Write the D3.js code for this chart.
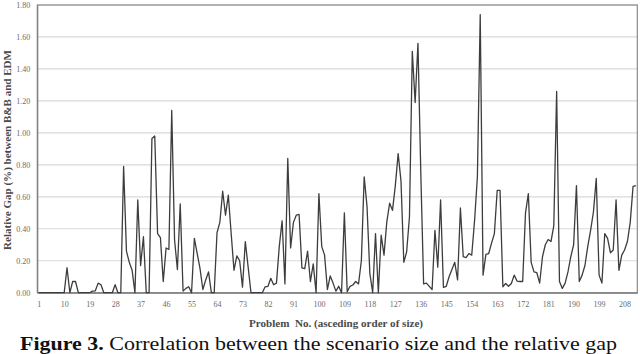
<!DOCTYPE html>
<html>
<head>
<meta charset="utf-8">
<script src="https://cdn.jsdelivr.net/npm/d3@7"></script>
<style>
  body { margin: 0; background: #fff; }
  svg { display: block; }
</style>
</head>
<body>
<script>
// relative gap (%) for problems 1..212
const gapValues = [
  0, 0, 0, 0, 0, 0, 0, 0, 0, 0,
  0.156, 0, 0.07, 0.07, 0, 0, 0, 0, 0, 0.01,
  0.012, 0.06, 0.05, 0, 0, 0, 0, 0.05, 0, 0,
  0.79, 0.26, 0.19, 0.14, 0, 0.58, 0.17, 0.35, 0, 0,
  0.965, 0.98, 0.37, 0.345, 0.07, 0.28, 0.27, 1.14, 0.33, 0.145,
  0.555, 0.01, 0.027, 0.037, 0, 0.34, 0.245, 0.15, 0.02, 0.08,
  0.13, 0, 0, 0.375, 0.44, 0.635, 0.485, 0.61, 0.37, 0.14,
  0.23, 0.20, 0.035, 0.32, 0.16, 0, 0, 0, 0, 0,
  0.037, 0.04, 0.09, 0.05, 0.06, 0.29, 0.45, 0.055, 0.84, 0.28,
  0.44, 0.485, 0.49, 0.155, 0.15, 0.26, 0.07, 0.18, 0, 0.62,
  0.29, 0.235, 0.02, 0.105, 0.06, 0.01, 0.04, 0, 0.50, 0.006,
  0.04, 0.048, 0.07, 0.055, 0.2, 0.725, 0.54, 0.12, 0, 0.37,
  0, 0.36, 0.235, 0.445, 0.56, 0.515, 0.67, 0.87, 0.70, 0.19,
  0.255, 0.475, 1.51, 1.19, 1.56, 0.75, 0.055, 0.06, 0.04, 0.02,
  0.39, 0.16, 0.58, 0.033, 0.04, 0.10, 0.145, 0.19, 0.08, 0.53,
  0.225, 0.22, 0.245, 0.235, 0.45, 0.725, 1.74, 0.11, 0.24, 0.245,
  0.31, 0.37, 0.64, 0.64, 0.037, 0.058, 0.04, 0.058, 0.11, 0.073,
  0.07, 0.07, 0.5, 0.62, 0.19, 0.13, 0.125, 0.06, 0.225, 0.30,
  0.333, 0.32, 0.42, 1.26, 0.07, 0.027, 0.06, 0.13, 0.225, 0.30,
  0.67, 0.07, 0.11, 0.17, 0.29, 0.39, 0.505, 0.715, 0.11, 0.06,
  0.37, 0.34, 0.25, 0.267, 0.58, 0.14, 0.235, 0.267, 0.32, 0.44,
  0.665, 0.67
];
const problemNo = gapValues.map((d, i) => i + 1);
const xTickLabels = [1, 10, 19, 28, 37, 46, 55, 64, 73, 82, 91, 100, 109, 118, 127, 136, 145, 154, 163, 172, 181, 190, 199, 208];
const yTickLabels = [0, 0.2, 0.4, 0.6, 0.8, 1.0, 1.2, 1.4, 1.6, 1.8];

const width = 640;
const height = 354;
const plot = { left: 37.3, right: 637.3, top: 5, bottom: 292.7 };
const serif = "'Liberation Serif', 'DejaVu Serif', serif";

const svg = d3.select("body").append("svg")
    .attr("width", width)
    .attr("height", height);

const x = d3.scalePoint()
    .domain(problemNo)
    .range([plot.left, plot.right])
    .padding(0.5);

const y = d3.scaleLinear()
    .domain([0, 1.8])
    .range([plot.bottom, plot.top]);

// gridlines
svg.append("g")
    .selectAll("line")
    .data(yTickLabels.slice(1))
    .enter()
    .append("line")
    .attr("x1", plot.left)
    .attr("x2", plot.right)
    .attr("y1", d => y(d))
    .attr("y2", d => y(d))
    .attr("stroke", "#d9d9d9")
    .attr("stroke-width", 1.2);

// plot frame
svg.append("rect")
    .attr("x", plot.left)
    .attr("y", plot.top)
    .attr("width", plot.right - plot.left)
    .attr("height", plot.bottom - plot.top)
    .attr("fill", "none")
    .attr("stroke", "#8a8a8a")
    .attr("stroke-width", 1.2);

// y axis
const yAxis = svg.append("g")
    .attr("transform", `translate(${plot.left},0)`)
    .call(d3.axisLeft(y).tickValues(yTickLabels).tickSize(0).tickPadding(7).tickFormat(d3.format(".2f")));
yAxis.select(".domain").attr("stroke", "#7a7a7a");
yAxis.selectAll("text")
    .attr("font-family", serif)
    .attr("font-size", "8px")
    .attr("fill", "#6b6b6b");

// x axis
const xAxis = svg.append("g")
    .attr("transform", `translate(0,${plot.bottom})`)
    .call(d3.axisBottom(x).tickValues(xTickLabels).tickSize(0).tickPadding(9));
xAxis.select(".domain").attr("stroke", "#7a7a7a").attr("stroke-width", 1.2);
xAxis.selectAll("text")
    .attr("font-family", serif)
    .attr("font-size", "8px")
    .attr("fill", "#6b6b6b");

// data line
const line = d3.line()
    .x((d, i) => x(problemNo[i]))
    .y(d => y(d));

svg.append("path")
    .datum(gapValues)
    .attr("fill", "none")
    .attr("stroke", "#3d3d3d")
    .attr("stroke-width", 1.3)
    .attr("stroke-linejoin", "round")
    .attr("d", line);

// axis titles
svg.append("text")
    .attr("transform", "translate(11,150) rotate(-90)")
    .attr("text-anchor", "middle")
    .attr("font-family", serif)
    .attr("font-weight", "bold")
    .attr("font-size", "10px")
    .attr("fill", "#4a4a4a")
    .attr("textLength", 200)
    .attr("lengthAdjust", "spacingAndGlyphs")
    .text("Relative Gap (%) between B&B and EDM");

svg.append("text")
    .attr("x", 336)
    .attr("y", 327)
    .attr("text-anchor", "middle")
    .attr("font-family", serif)
    .attr("font-weight", "bold")
    .attr("font-size", "10px")
    .attr("fill", "#4a4a4a")
    .attr("textLength", 174)
    .attr("lengthAdjust", "spacingAndGlyphs")
    .style("white-space", "pre")
    .text("Problem  No. (asceding order of size)");

// caption
const caption = svg.append("text")
    .attr("x", 20)
    .attr("y", 350)
    .attr("font-family", serif)
    .attr("font-size", "19px")
    .attr("fill", "#111")
    .attr("textLength", 597)
    .attr("lengthAdjust", "spacingAndGlyphs");
caption.append("tspan").attr("font-weight", "bold").text("Figure 3.");
caption.append("tspan").text(" Correlation between the scenario size and the relative gap");
</script>
</body>
</html>
